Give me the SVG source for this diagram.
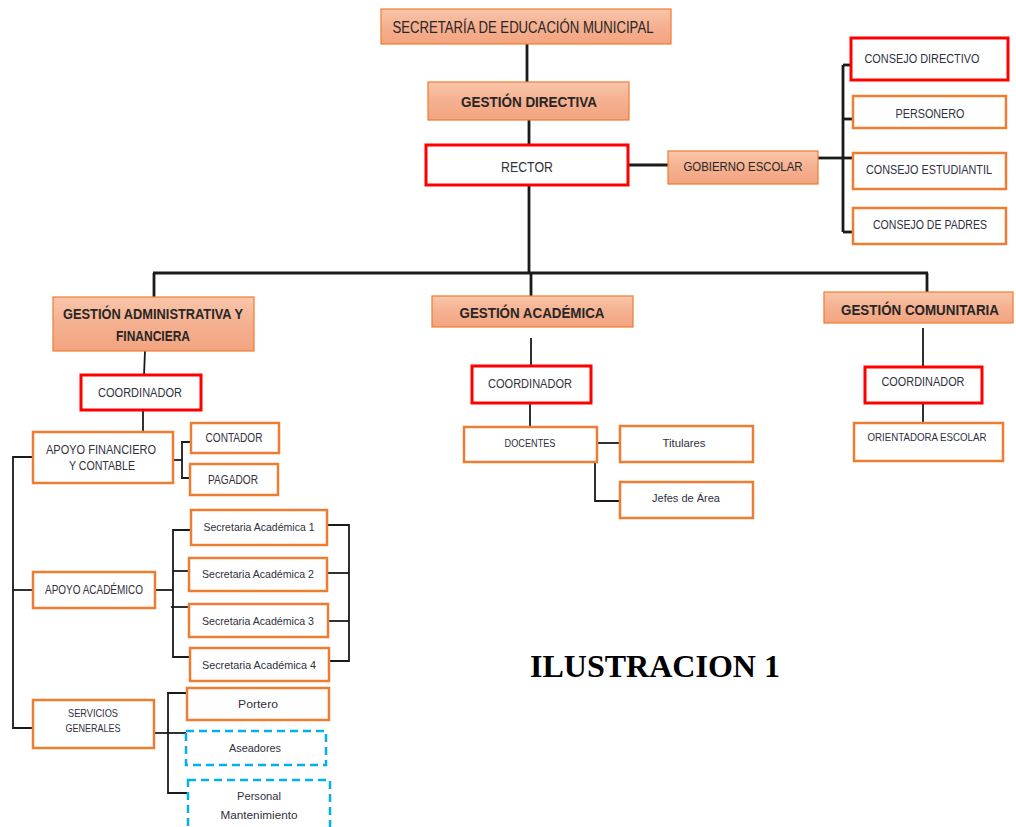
<svg xmlns="http://www.w3.org/2000/svg" width="1016" height="827" viewBox="0 0 1016 827">
<defs>
<linearGradient id="hdr" x1="0" y1="0" x2="0" y2="1">
<stop offset="0" stop-color="#f9c6aa"/>
<stop offset="0.5" stop-color="#f5b090"/>
<stop offset="1" stop-color="#f3a47f"/>
</linearGradient>
</defs>
<style>
.h rect{fill:url(#hdr);stroke:#ed7d31;stroke-width:1.2}
.o rect{fill:#fff;stroke:#ed7d31;stroke-width:2.5}
.r rect{fill:#fff;stroke:#ff0000;stroke-width:3}
.d rect{fill:#fff;stroke:#00b0f0;stroke-width:2.5;stroke-dasharray:8 5}
text{font-family:"Liberation Sans","Open Sans",sans-serif;fill:#2a2a2a;text-anchor:middle}
.h text{font-weight:bold;font-size:15px;fill:#262626}
.o text,.r text,.d text{font-size:12px;fill:#303040}
.cn line,.cn polyline{stroke:#1a1a1a;fill:none;stroke-width:1.8}
.cn .t{stroke-width:2.8}
.title{font-family:"Liberation Serif","Times New Roman",serif;font-weight:bold;font-size:31px;fill:#000}
</style>
<g class="cn">
<line class="t" x1="527" y1="44" x2="527" y2="82"/>
<line class="t" x1="529" y1="120" x2="529" y2="145"/>
<line class="t" x1="628" y1="165" x2="668" y2="165"/>
<line class="t" x1="818" y1="158" x2="843" y2="158"/>
<line class="t" x1="843" y1="65" x2="843" y2="232"/>
<line class="t" x1="843" y1="65" x2="852" y2="65"/>
<line class="t" x1="843" y1="119" x2="853" y2="119"/>
<line class="t" x1="843" y1="158" x2="853" y2="158"/>
<line class="t" x1="843" y1="232" x2="853" y2="232"/>
<line class="t" x1="529" y1="185" x2="529" y2="273"/>
<line class="t" x1="153" y1="273" x2="928" y2="273"/>
<line class="t" x1="154" y1="273" x2="154" y2="297"/>
<line class="t" x1="531" y1="273" x2="531" y2="296"/>
<line class="t" x1="927" y1="273" x2="927" y2="292"/>
<line x1="145" y1="351" x2="144" y2="375"/>
<line x1="143" y1="410" x2="143" y2="432"/>
<line x1="173" y1="460" x2="182" y2="460"/>
<polyline points="191,442 182,442 182,478 190,478"/>
<polyline points="33,457 13,457 13,728 33,728"/>
<line x1="13" y1="590" x2="33" y2="590"/>
<line x1="155" y1="590" x2="173" y2="590"/>
<polyline points="191,530 173,530 173,657 190,657"/>
<line x1="173" y1="571" x2="189" y2="571"/>
<line x1="171" y1="607" x2="189" y2="607"/>
<polyline points="327,525 349,525 349,661 329,661"/>
<line x1="327" y1="573" x2="349" y2="573"/>
<line x1="328" y1="621" x2="349" y2="621"/>
<line x1="154" y1="733" x2="186" y2="733"/>
<polyline points="187,693 168,693 168,793 188,793"/>
<line x1="531" y1="338" x2="531" y2="366"/>
<line x1="530" y1="403" x2="530" y2="427"/>
<line x1="597" y1="443" x2="620" y2="443"/>
<polyline points="595,462 595,501 620,501"/>
<line x1="923" y1="328" x2="923" y2="367"/>
<line x1="923" y1="403" x2="923" y2="423"/>
</g>
<g id="secretaria" class="h"><rect x="381" y="9" width="290" height="35"/><text x="523" y="33" textLength="261" lengthAdjust="spacingAndGlyphs" style="font-weight:normal;font-size:16px">SECRETARÍA DE EDUCACIÓN MUNICIPAL</text></g>
<g id="gestion-directiva" class="h"><rect x="428" y="82" width="201" height="38"/><text x="529" y="107" textLength="136" lengthAdjust="spacingAndGlyphs">GESTIÓN DIRECTIVA</text></g>
<g id="rector" class="r"><rect x="426" y="145" width="202" height="40"/><text x="527" y="172" textLength="52" lengthAdjust="spacingAndGlyphs" style="font-size:15px">RECTOR</text></g>
<g id="gobierno-escolar" class="h"><rect x="668" y="151" width="150" height="33"/><text x="743" y="171" textLength="119" lengthAdjust="spacingAndGlyphs" style="font-weight:normal;font-size:13px">GOBIERNO ESCOLAR</text></g>
<g id="consejo-directivo" class="r"><rect x="851" y="38" width="157" height="42"/><text x="922" y="63" textLength="115" lengthAdjust="spacingAndGlyphs">CONSEJO DIRECTIVO</text></g>
<g id="personero" class="o"><rect x="853" y="96" width="153" height="32"/><text x="930" y="118" textLength="69" lengthAdjust="spacingAndGlyphs">PERSONERO</text></g>
<g id="consejo-estudiantil" class="o"><rect x="853" y="153" width="153" height="36"/><text x="929" y="174" textLength="126" lengthAdjust="spacingAndGlyphs">CONSEJO ESTUDIANTIL</text></g>
<g id="consejo-padres" class="o"><rect x="853" y="208" width="153" height="36"/><text x="930" y="229" textLength="114" lengthAdjust="spacingAndGlyphs">CONSEJO DE PADRES</text></g>
<g id="gestion-administrativa" class="h"><rect x="53" y="297" width="201" height="54"/><text x="153" y="319" textLength="180" lengthAdjust="spacingAndGlyphs" style="font-size:14px">GESTIÓN ADMINISTRATIVA Y</text><text x="153" y="341" textLength="74" lengthAdjust="spacingAndGlyphs" style="font-size:14px">FINANCIERA</text></g>
<g id="coordinador-adm" class="r"><rect x="81" y="375" width="120" height="35"/><text x="140" y="397" textLength="84" lengthAdjust="spacingAndGlyphs">COORDINADOR</text></g>
<g id="apoyo-financiero" class="o"><rect x="33" y="432" width="140" height="51"/><text x="101" y="454" textLength="110" lengthAdjust="spacingAndGlyphs">APOYO FINANCIERO</text><text x="102" y="470" textLength="66" lengthAdjust="spacingAndGlyphs">Y CONTABLE</text></g>
<g id="contador" class="o"><rect x="191" y="423" width="88" height="30"/><text x="234" y="442" textLength="57" lengthAdjust="spacingAndGlyphs">CONTADOR</text></g>
<g id="pagador" class="o"><rect x="190" y="464" width="88" height="31"/><text x="233" y="484" textLength="50" lengthAdjust="spacingAndGlyphs">PAGADOR</text></g>
<g id="apoyo-academico" class="o"><rect x="33" y="572" width="122" height="36"/><text x="94" y="594" textLength="98" lengthAdjust="spacingAndGlyphs">APOYO ACADÉMICO</text></g>
<g id="sec-acad-1" class="o"><rect x="191" y="510" width="136" height="35"/><text x="259" y="531" textLength="111" lengthAdjust="spacingAndGlyphs" style="font-size:11px">Secretaria Académica 1</text></g>
<g id="sec-acad-2" class="o"><rect x="189" y="558" width="138" height="33"/><text x="258" y="578" textLength="112" lengthAdjust="spacingAndGlyphs" style="font-size:11px">Secretaria Académica 2</text></g>
<g id="sec-acad-3" class="o"><rect x="189" y="604" width="139" height="33"/><text x="258" y="625" textLength="112" lengthAdjust="spacingAndGlyphs" style="font-size:11px">Secretaria Académica 3</text></g>
<g id="sec-acad-4" class="o"><rect x="190" y="648" width="139" height="33"/><text x="259" y="669" textLength="114" lengthAdjust="spacingAndGlyphs" style="font-size:11px">Secretaria Académica 4</text></g>
<g id="servicios-generales" class="o"><rect x="33" y="700" width="121" height="48"/><text x="93" y="717" textLength="50" lengthAdjust="spacingAndGlyphs" style="font-size:11px">SERVICIOS</text><text x="93" y="732" textLength="55" lengthAdjust="spacingAndGlyphs" style="font-size:11px">GENERALES</text></g>
<g id="portero" class="o"><rect x="187" y="688" width="142" height="32"/><text x="258" y="708" textLength="40" lengthAdjust="spacingAndGlyphs" style="font-size:11px">Portero</text></g>
<g id="aseadores" class="d"><rect x="186" y="731" width="140" height="34"/><text x="255" y="752" textLength="52" lengthAdjust="spacingAndGlyphs" style="font-size:11px">Aseadores</text></g>
<g id="personal-mantenimiento" class="d"><rect x="188" y="780" width="142" height="50"/><text x="259" y="800" textLength="44" lengthAdjust="spacingAndGlyphs" style="font-size:11px">Personal</text><text x="259" y="819" textLength="77" lengthAdjust="spacingAndGlyphs" style="font-size:11px">Mantenimiento</text></g>
<g id="gestion-academica" class="h"><rect x="432" y="296" width="201" height="31"/><text x="532" y="318" textLength="145" lengthAdjust="spacingAndGlyphs">GESTIÓN ACADÉMICA</text></g>
<g id="coordinador-acad" class="r"><rect x="472" y="366" width="119" height="37"/><text x="530" y="388" textLength="84" lengthAdjust="spacingAndGlyphs">COORDINADOR</text></g>
<g id="docentes" class="o"><rect x="464" y="427" width="133" height="35"/><text x="530" y="447" textLength="51" lengthAdjust="spacingAndGlyphs" style="font-size:11px">DOCENTES</text></g>
<g id="titulares" class="o"><rect x="620" y="426" width="133" height="36"/><text x="684" y="447" textLength="43" lengthAdjust="spacingAndGlyphs" style="font-size:11px">Titulares</text></g>
<g id="jefes-area" class="o"><rect x="620" y="482" width="133" height="36"/><text x="686" y="502" textLength="68" lengthAdjust="spacingAndGlyphs" style="font-size:11px">Jefes de Área</text></g>
<g id="gestion-comunitaria" class="h"><rect x="824" y="292" width="189" height="31"/><text x="920" y="315" textLength="158" lengthAdjust="spacingAndGlyphs">GESTIÓN COMUNITARIA</text></g>
<g id="coordinador-com" class="r"><rect x="865" y="367" width="117" height="36"/><text x="923" y="386" textLength="83" lengthAdjust="spacingAndGlyphs">COORDINADOR</text></g>
<g id="orientadora" class="o"><rect x="854" y="423" width="149" height="38"/><text x="927" y="441" textLength="119" lengthAdjust="spacingAndGlyphs" style="font-size:11px">ORIENTADORA ESCOLAR</text></g>
<text class="title" x="655" y="677" textLength="250" lengthAdjust="spacingAndGlyphs">ILUSTRACION 1</text>
</svg>
